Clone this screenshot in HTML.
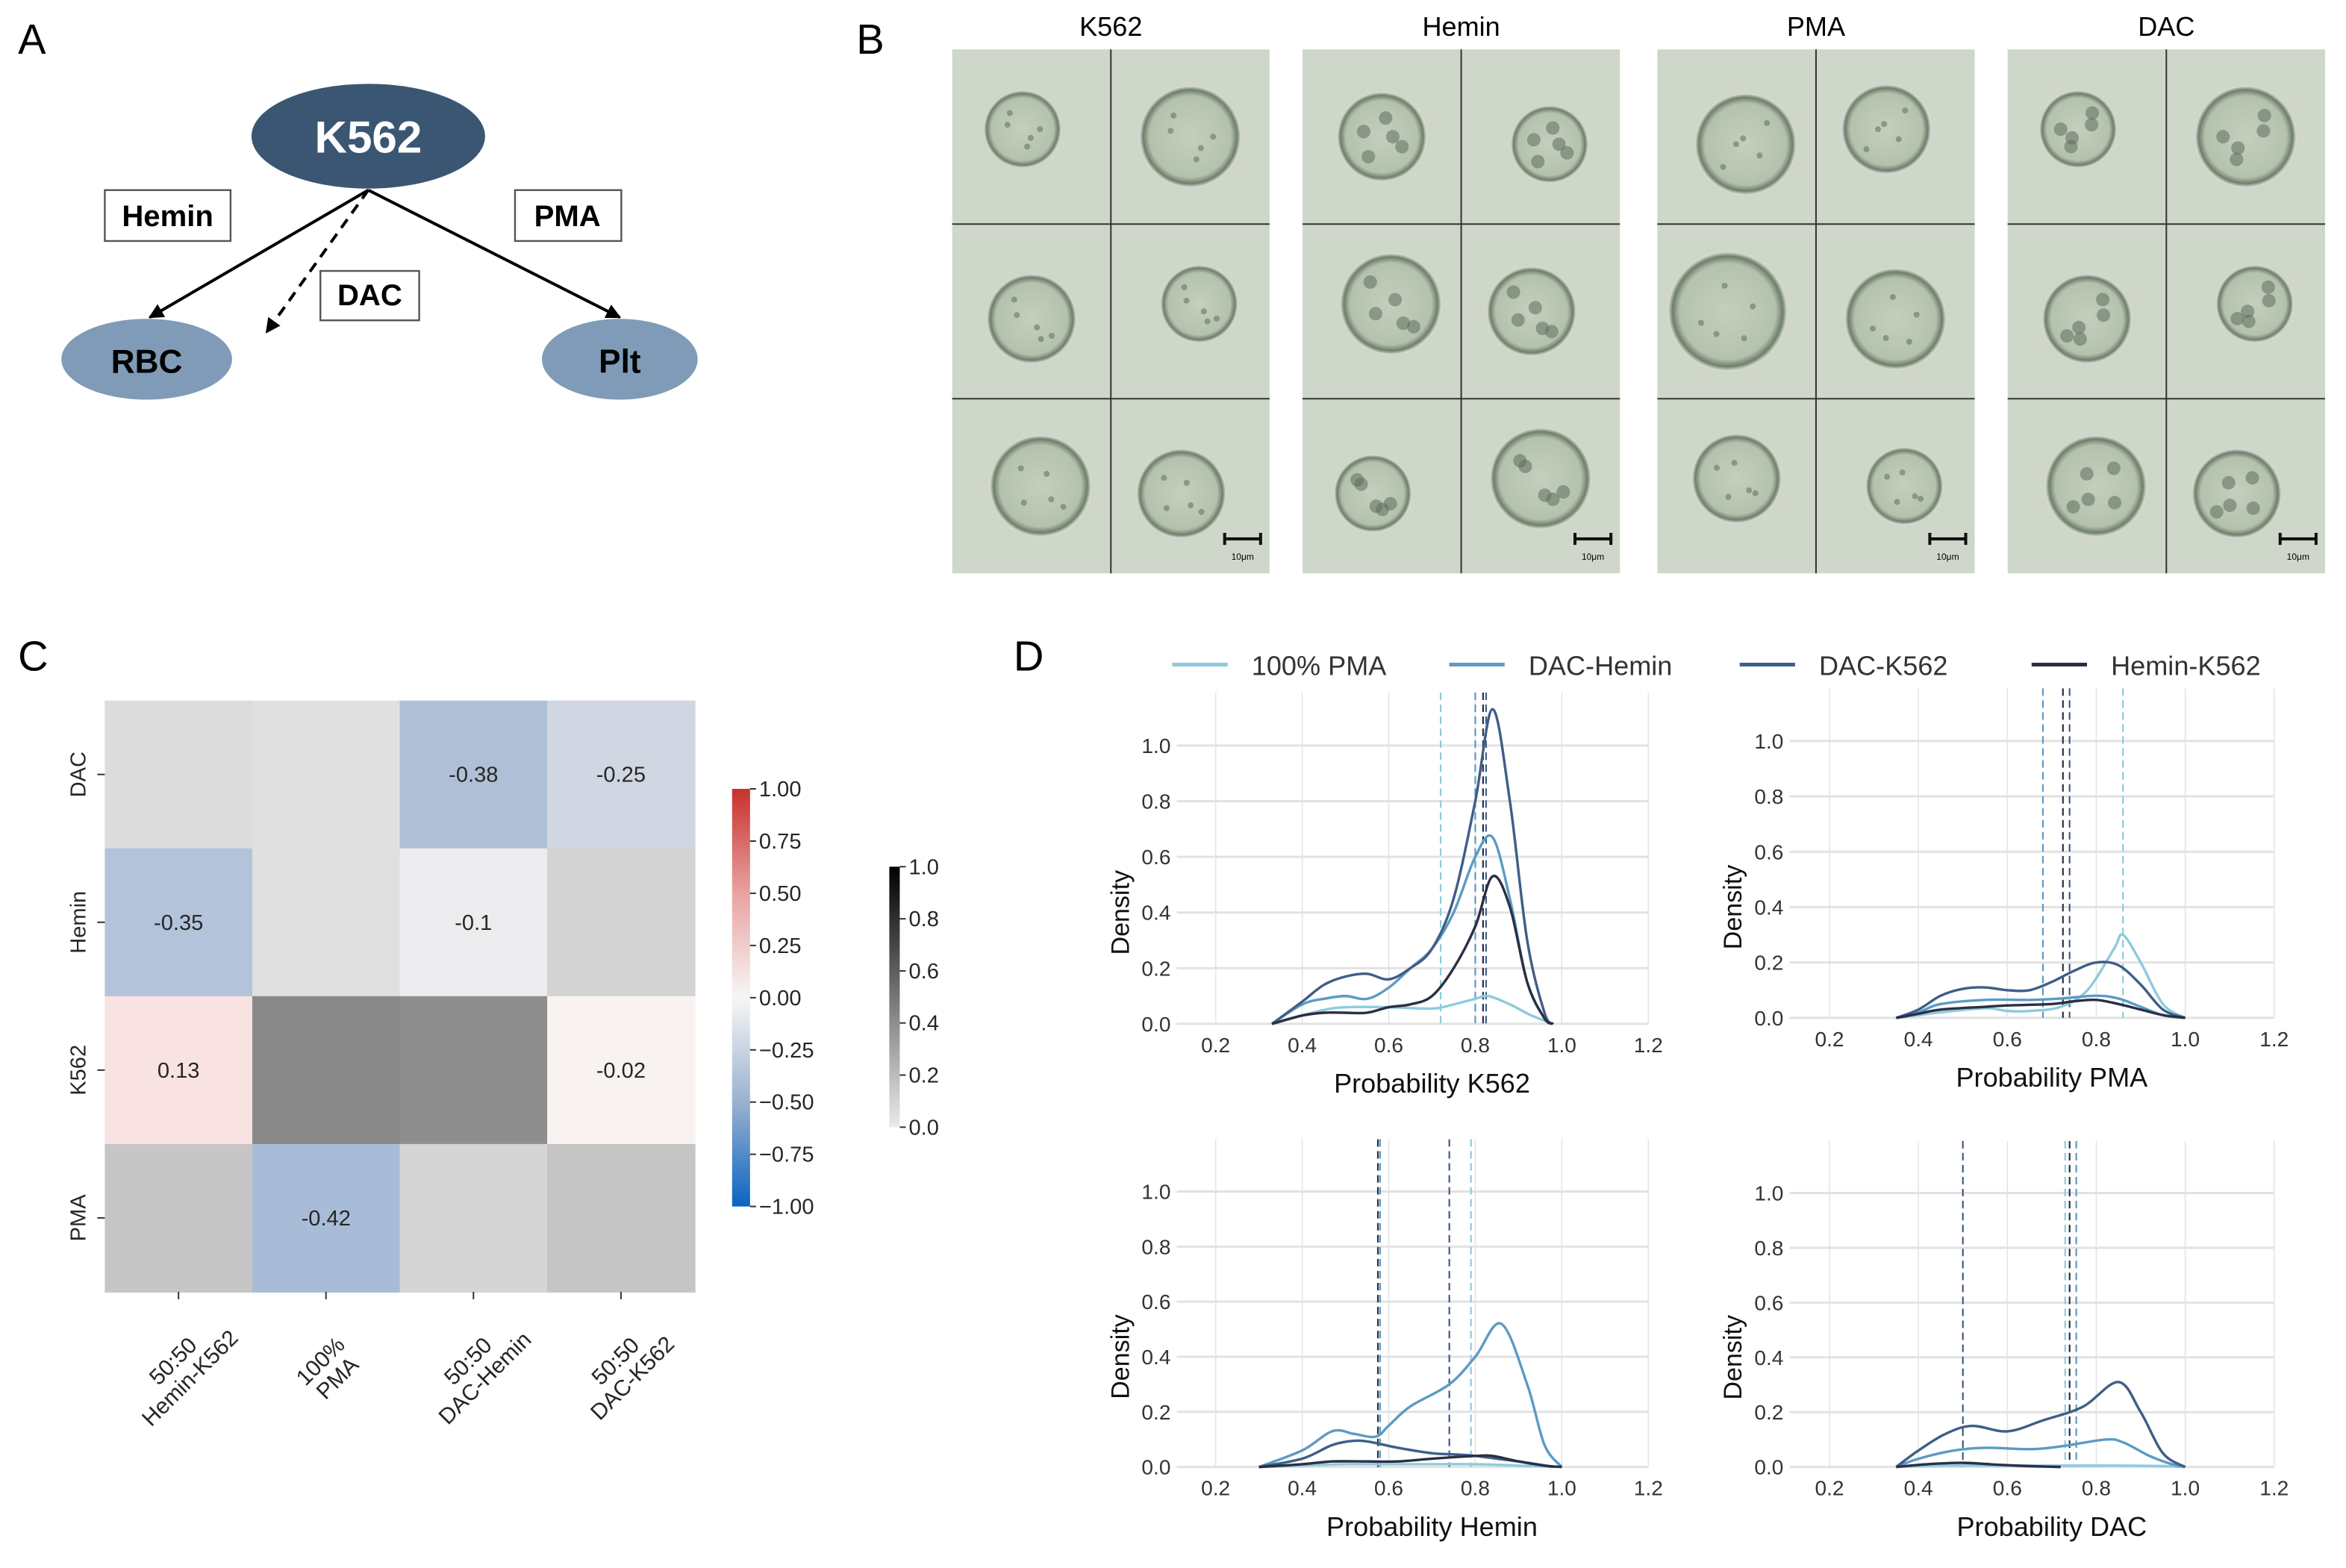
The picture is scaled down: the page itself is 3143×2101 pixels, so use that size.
<!DOCTYPE html>
<html><head><meta charset="utf-8"><style>
html,body{margin:0;padding:0;background:#fff}
svg{display:block}
text{font-family:"Liberation Sans",sans-serif}
.nar{font-family:"Liberation Sans Narrow","Liberation Sans",sans-serif}
</style></head><body>
<svg id="fig" width="3143" height="2101" viewBox="0 0 1567 1047.5" preserveAspectRatio="none" xmlns="http://www.w3.org/2000/svg">
<defs>
<marker id="ah" viewBox="0 0 10 10" refX="9" refY="5" markerWidth="5" markerHeight="5" orient="auto"><path d="M0,0 L10,5 L0,10 z" fill="#000"/></marker>
<radialGradient id="cellg" cx="50%" cy="50%" r="50%"><stop offset="0%" stop-color="#c4cfbd"/><stop offset="80%" stop-color="#b4c2ad"/><stop offset="92%" stop-color="#6f7d6c"/><stop offset="100%" stop-color="#dfe6d8"/></radialGradient>
</defs>
<g>
<text x="12" y="36" font-size="28">A</text>
<line x1="246" y1="127" x2="100" y2="212" stroke="#000" stroke-width="2" marker-end="url(#ah)"/>
<line x1="246" y1="127" x2="414" y2="212" stroke="#000" stroke-width="2" marker-end="url(#ah)"/>
<line x1="246" y1="127" x2="178" y2="222" stroke="#000" stroke-width="2" stroke-dasharray="7,5" marker-end="url(#ah)"/>
<ellipse cx="246" cy="91" rx="78" ry="35" fill="#3b5672"/>
<text x="246" y="102" font-size="30" font-weight="bold" fill="#fff" text-anchor="middle">K562</text>
<ellipse cx="98" cy="240" rx="57" ry="27" fill="#7f9bb7"/>
<text x="98" y="249" font-size="22" font-weight="bold" text-anchor="middle">RBC</text>
<ellipse cx="414" cy="240" rx="52" ry="27" fill="#7f9bb7"/>
<text x="414" y="249" font-size="22" font-weight="bold" text-anchor="middle">Plt</text>
<rect x="70" y="127" width="84" height="34" fill="#fff" stroke="#555" stroke-width="1.2"/>
<text x="112" y="151" font-size="20" font-weight="bold" text-anchor="middle">Hemin</text>
<rect x="344" y="127" width="71" height="34" fill="#fff" stroke="#555" stroke-width="1.2"/>
<text x="379" y="151" font-size="20" font-weight="bold" text-anchor="middle">PMA</text>
<rect x="214" y="181" width="66" height="33" fill="#fff" stroke="#555" stroke-width="1.2"/>
<text x="247" y="204" font-size="20" font-weight="bold" text-anchor="middle">DAC</text>
</g>
<g id="panelB">
<text x="572" y="36" font-size="28">B</text>
</g>
<g id="panelC">
<text x="12" y="448" font-size="28">C</text>
</g>
<g id="panelD">
<text x="677" y="448" font-size="28">D</text>
</g>
</svg>
<script>
// ---------- Panel C data ----------
const hmCols = ["50:50|Hemin-K562", "100%|PMA", "50:50|DAC-Hemin", "50:50|DAC-K562"];
const hmRows = ["DAC", "Hemin", "K562", "PMA"];
const hmColors = [
  ["#dcdcdc", "#e0e0e0", "#afc0d6", "#d0d6e2"],
  ["#b3c3d9", "#e0e0e0", "#ececef", "#d3d3d3"],
  ["#f8e2e2", "#898989", "#8e8e8e", "#f8f3f1"],
  ["#c6c6c6", "#a8bcd7", "#d5d5d5", "#c5c5c5"]
];
const hmLabels = [
  ["", "", "-0.38", "-0.25"],
  ["-0.35", "", "-0.1", ""],
  ["0.13", "", "", "-0.02"],
  ["", "-0.42", "", ""]
];
const rbTicks = ["1.00", "0.75", "0.50", "0.25", "0.00", "\u22120.25", "\u22120.50", "\u22120.75", "\u22121.00"];
const grayTicks = ["1.0", "0.8", "0.6", "0.4", "0.2", "0.0"];

// ---------- Panel D data ----------
const seriesNames = ["100% PMA", "DAC-Hemin", "DAC-K562", "Hemin-K562"];
const seriesColors = ["#8ecbdc", "#5b9bc4", "#3f5e87", "#2a2f45"];
const xTicks = [0.2, 0.4, 0.6, 0.8, 1.0, 1.2];
const yTicks = [0.0, 0.2, 0.4, 0.6, 0.8, 1.0];
const k562_pma_x = [0.33,0.4,0.45,0.5,0.6,0.7,0.75,0.8,0.83,0.88,0.93,0.98];
const k562_pma_y = [0,0.03,0.05,0.06,0.06,0.055,0.07,0.09,0.1,0.07,0.03,0];
const k562_dh_x = [0.33,0.4,0.45,0.5,0.55,0.6,0.65,0.7,0.75,0.8,0.84,0.88,0.92,0.96,0.98];
const k562_dh_y = [0,0.07,0.09,0.1,0.09,0.13,0.2,0.27,0.4,0.6,0.67,0.45,0.15,0.02,0];
const k562_dk_x = [0.33,0.4,0.45,0.5,0.55,0.6,0.65,0.7,0.75,0.8,0.84,0.88,0.92,0.96,0.98];
const k562_dk_y = [0,0.08,0.14,0.17,0.18,0.16,0.2,0.27,0.45,0.8,1.13,0.8,0.3,0.04,0];
const k562_hk_x = [0.33,0.4,0.45,0.5,0.55,0.6,0.65,0.7,0.75,0.8,0.84,0.88,0.92,0.96,0.98];
const k562_hk_y = [0,0.03,0.04,0.04,0.04,0.06,0.07,0.1,0.2,0.35,0.53,0.42,0.15,0.02,0];
const k562_means = [0.72, 0.80, 0.825, 0.818];
const pma_pma_x = [0.35,0.4,0.45,0.55,0.6,0.65,0.72,0.78,0.84,0.86,0.9,0.95,1.0];
const pma_pma_y = [0,0.01,0.02,0.035,0.025,0.025,0.04,0.1,0.25,0.3,0.2,0.05,0];
const pma_dh_x = [0.35,0.4,0.45,0.55,0.65,0.72,0.8,0.85,0.9,0.95,1.0];
const pma_dh_y = [0,0.02,0.05,0.065,0.065,0.07,0.08,0.07,0.04,0.01,0];
const pma_dk_x = [0.35,0.4,0.45,0.5,0.55,0.6,0.65,0.7,0.75,0.8,0.85,0.9,0.95,1.0];
const pma_dk_y = [0,0.03,0.08,0.105,0.11,0.1,0.1,0.13,0.17,0.2,0.19,0.12,0.03,0];
const pma_hk_x = [0.35,0.4,0.45,0.55,0.6,0.7,0.75,0.8,0.85,0.9,0.95,1.0];
const pma_hk_y = [0,0.015,0.03,0.04,0.045,0.05,0.06,0.065,0.05,0.03,0.01,0];
const pma_means = [0.86, 0.68, 0.74, 0.725];
const hem_pma_x = [0.3,0.4,0.5,0.6,0.7,0.8,0.9,1.0];
const hem_pma_y = [0,0.005,0.01,0.01,0.01,0.01,0.005,0];
const hem_dh_x = [0.3,0.4,0.47,0.52,0.57,0.6,0.65,0.74,0.8,0.86,0.92,0.96,1.0];
const hem_dh_y = [0,0.06,0.13,0.12,0.11,0.15,0.22,0.3,0.4,0.52,0.3,0.08,0];
const hem_dk_x = [0.3,0.4,0.47,0.52,0.56,0.62,0.7,0.76,0.8,0.85,0.9,0.98];
const hem_dk_y = [0,0.03,0.08,0.095,0.09,0.07,0.05,0.045,0.04,0.03,0.02,0];
const hem_hk_x = [0.3,0.4,0.47,0.55,0.62,0.7,0.8,0.84,0.9,0.96,1.0];
const hem_hk_y = [0,0.01,0.02,0.02,0.02,0.03,0.04,0.04,0.02,0.005,0];
const hem_means = [0.79, 0.58, 0.74, 0.575];
const dac_pma_x = [0.35,0.45,0.55,0.65,0.75,0.85,0.95,1.0];
const dac_pma_y = [0,0.005,0.005,0.005,0.005,0.005,0.003,0];
const dac_dh_x = [0.35,0.4,0.48,0.55,0.65,0.72,0.82,0.86,0.92,0.97,1.0];
const dac_dh_y = [0,0.03,0.06,0.07,0.065,0.075,0.1,0.09,0.04,0.01,0];
const dac_dk_x = [0.35,0.4,0.46,0.52,0.6,0.68,0.77,0.85,0.9,0.95,1.0];
const dac_dk_y = [0,0.06,0.12,0.15,0.13,0.17,0.22,0.31,0.2,0.05,0];
const dac_hk_x = [0.35,0.42,0.5,0.58,0.65,0.72];
const dac_hk_y = [0,0.01,0.015,0.008,0.003,0];
const dac_means = [0.73, 0.755, 0.50, 0.74];

const NS = "http://www.w3.org/2000/svg";
function mk(tag, attrs, parent, txt) {
  const e = document.createElementNS(NS, tag);
  for (const k in attrs) e.setAttribute(k, attrs[k]);
  if (txt !== undefined) e.textContent = txt;
  parent.appendChild(e);
  return e;
}

// ---------- Panel B ----------
const pB = document.getElementById('panelB');
const panelTitles = ["K562", "Hemin", "PMA", "DAC"];
const panelX = [636, 870, 1107, 1341];
panelTitles.forEach((t, i) => {
  const x0 = panelX[i], w = 212, y0 = 33, h = 350;
  const tt = mk('text', {x: x0 + w / 2, y: 24, 'font-size': 18, 'text-anchor': 'middle'}, pB, t);
  
  
  const bg = mk('rect', {x: x0, y: y0, width: w, height: h, fill: '#cfd7ca'}, pB);
  
  
  for (let r = 0; r < 3; r++) for (let c = 0; c < 2; c++) {
    const cx = x0 + w / 4 + c * w / 2 + ((r + c + i) % 3 - 1) * 6;
    const cy = y0 + h / 6 + r * h / 3 + ((r * 2 + c + i) % 3 - 1) * 5;
    const rad = 26 + ((r + c * 2 + i) % 3) * 4 + (i === 2 && r === 1 && c === 0 ? 14 : 0);
    const cell = mk('circle', {cx: cx, cy: cy, r: rad, fill: 'url(#cellg)'}, pB);
    
    
    for (let k = 0; k < 5; k++) {
      mk('circle', {cx: cx + Math.cos(k * 1.3 + i) * rad * 0.45, cy: cy + Math.sin(k * 1.7 + r) * rad * 0.45, r: 2 + (i % 2) * 2.5, fill: '#5f6d5e', opacity: 0.55}, pB);
    }
  }
  mk('line', {x1: x0 + w / 2, y1: y0, x2: x0 + w / 2, y2: y0 + h, stroke: '#333', 'stroke-width': 1}, pB);
  mk('line', {x1: x0, y1: y0 + h / 3, x2: x0 + w, y2: y0 + h / 3, stroke: '#333', 'stroke-width': 1}, pB);
  mk('line', {x1: x0, y1: y0 + 2 * h / 3, x2: x0 + w, y2: y0 + 2 * h / 3, stroke: '#333', 'stroke-width': 1}, pB);
  const sb = mk('path', {d: `M${x0+w-30},${y0+h-23} h24 M${x0+w-30},${y0+h-27} v8 M${x0+w-6},${y0+h-27} v8`, stroke: '#111', 'stroke-width': 2, fill: 'none'}, pB);
  
  
  mk('text', {x: x0 + w - 18, y: y0 + h - 9, 'font-size': 6, 'text-anchor': 'middle'}, pB, '10\u03bcm');
});

// ---------- Panel C heatmap ----------
const pC = document.getElementById('panelC');
const hmX0 = 70, hmY0 = 468, hmW = 394, hmH = 395;
const cw = hmW / hmCols.length, ch = hmH / hmRows.length;
hmRows.forEach((rn, r) => {
  hmCols.forEach((cn, c) => {
    const cell = mk('rect', {x: hmX0 + c * cw, y: hmY0 + r * ch, width: cw + 0.5, height: ch + 0.5, fill: hmColors[r][c]}, pC);
    
    
    if (hmLabels[r][c]) {
      const t = mk('text', {x: hmX0 + c * cw + cw / 2, y: hmY0 + r * ch + ch / 2 + 5, 'font-size': 14.5, 'text-anchor': 'middle', fill: '#262626'}, pC, hmLabels[r][c]);
      
      
    }
  });
  const cy = hmY0 + r * ch + ch / 2;
  mk('line', {x1: hmX0 - 5, y1: cy, x2: hmX0, y2: cy, stroke: '#333', 'stroke-width': 1}, pC);
  const yl = mk('text', {x: 0, y: 0, 'font-size': 14.5, 'text-anchor': 'middle', fill: '#262626', transform: `translate(57,${cy}) rotate(-90)`}, pC, rn);
  
  
});
hmCols.forEach((cn, c) => {
  const cx = hmX0 + c * cw + cw / 2;
  mk('line', {x1: cx, y1: hmY0 + hmH, x2: cx, y2: hmY0 + hmH + 5, stroke: '#333', 'stroke-width': 1}, pC);
  const lines = cn.split('|');
  const g = mk('g', {transform: `translate(${cx + 2},${hmY0 + hmH + 52}) rotate(-45)`}, pC);
  
  
  lines.forEach((ln, k) => {
    mk('text', {x: 0, y: -3 + k * 16, 'font-size': 15, 'text-anchor': 'middle', fill: '#262626'}, g, ln);
  });
});
const cb1 = {x: 489, y: 527, w: 12, h: 279};
const lg1 = mk('linearGradient', {id: 'rbgrad', x1: 0, y1: 0, x2: 0, y2: 1}, document.querySelector('defs'));
[["0", "#c9302c"], ["0.25", "#e8a3a0"], ["0.5", "#f7f6f6"], ["0.75", "#9ab1d0"], ["1", "#0a64c4"]].forEach(s => mk('stop', {offset: s[0], 'stop-color': s[1]}, lg1));
const cbr = mk('rect', {x: cb1.x, y: cb1.y, width: cb1.w, height: cb1.h, fill: 'url(#rbgrad)'}, pC);


rbTicks.forEach((t, i) => {
  const y = cb1.y + i * cb1.h / (rbTicks.length - 1);
  mk('line', {x1: cb1.x + cb1.w, y1: y, x2: cb1.x + cb1.w + 4, y2: y, stroke: '#333'}, pC);
  const tx = mk('text', {x: cb1.x + cb1.w + 6, y: y + 5, 'font-size': 14.5, fill: '#262626'}, pC, t);
  
  
});
const cb2 = {x: 594, y: 579, w: 7, h: 174};
const lg2 = mk('linearGradient', {id: 'gygrad', x1: 0, y1: 0, x2: 0, y2: 1}, document.querySelector('defs'));
[["0", "#000"], ["1", "#ebebeb"]].forEach(s => mk('stop', {offset: s[0], 'stop-color': s[1]}, lg2));
const cbg = mk('rect', {x: cb2.x, y: cb2.y, width: cb2.w, height: cb2.h, fill: 'url(#gygrad)'}, pC);


grayTicks.forEach((t, i) => {
  const y = cb2.y + i * cb2.h / (grayTicks.length - 1);
  mk('line', {x1: cb2.x + cb2.w, y1: y, x2: cb2.x + cb2.w + 4, y2: y, stroke: '#333'}, pC);
  const tx = mk('text', {x: cb2.x + cb2.w + 6, y: y + 5, 'font-size': 14.5, fill: '#262626'}, pC, t);
  
  
});

// ---------- Panel D ----------
const pD = document.getElementById('panelD');
const legX = [783, 968, 1162, 1357];
seriesNames.forEach((n, i) => {
  const g = mk('g', {}, pD);
  
  
  mk('line', {x1: legX[i], y1: 444, x2: legX[i] + 37, y2: 444, stroke: seriesColors[i], 'stroke-width': 2.5}, g);
  mk('text', {x: legX[i] + 53, y: 451, 'font-size': 18, fill: '#333', class: 'nar'}, g, n);
});
function smoothPath(pts) {
  let d = `M${pts[0][0]},${pts[0][1]}`;
  for (let i = 0; i < pts.length - 1; i++) {
    const p0 = pts[Math.max(0, i - 1)], p1 = pts[i], p2 = pts[i + 1], p3 = pts[Math.min(pts.length - 1, i + 2)];
    const c1 = [p1[0] + (p2[0] - p0[0]) / 6, p1[1] + (p2[1] - p0[1]) / 6];
    const c2 = [p2[0] - (p3[0] - p1[0]) / 6, p2[1] - (p3[1] - p1[1]) / 6];
    d += ` C${c1[0]},${c1[1]} ${c2[0]},${c2[1]} ${p2[0]},${p2[1]}`;
  }
  return d;
}
function subplot(cfg) {
  const {px0, px1, y0, y1, xlabel, xs, ys, means, name} = cfg;
  const xS = v => px0 + (v - 0.2) * (px1 - px0);
  const yS = v => y0 + v * (y1 - y0);
  const g = mk('g', {}, pD);
  
  
  const left = xS(0.11), right = xS(1.2), top = yS(1.19);
  xTicks.forEach(t => {
    mk('line', {x1: xS(t), y1: top, x2: xS(t), y2: y0, stroke: '#e4e4e4', 'stroke-width': 0.8}, g);
    const tx = mk('text', {x: xS(t), y: y0 + 19, 'font-size': 14, 'text-anchor': 'middle', fill: '#333', class: 'nar'}, g, t.toFixed(1));
    
    
  });
  yTicks.forEach(t => {
    mk('line', {x1: left, y1: yS(t), x2: right, y2: yS(t), stroke: '#e2e2e2', 'stroke-width': 1.5}, g);
    const tx = mk('text', {x: left - 4, y: yS(t) + 5, 'font-size': 14, 'text-anchor': 'end', fill: '#333', class: 'nar'}, g, t.toFixed(1));
    
    
  });
  const xl = mk('text', {x: (xS(0.2) + xS(1.2)) / 2, y: y0 + 46, 'font-size': 18, 'text-anchor': 'middle', fill: '#111', class: 'nar'}, g, xlabel);
  
  
  const yl = mk('text', {x: 0, y: 0, 'font-size': 17, 'text-anchor': 'middle', fill: '#111', transform: `translate(${left - 32},${yS(0.4)}) rotate(-90)`}, g, 'Density');
  
  
  means.forEach((m, i) => {
    const vl = mk('line', {x1: xS(m), y1: top, x2: xS(m), y2: y0, stroke: seriesColors[i], 'stroke-width': 1.1, 'stroke-dasharray': '5,3'}, g);
    
    
  });
  for (let i = 0; i < 4; i++) {
    const pts = xs[i].map((x, k) => [xS(x), yS(ys[i][k])]);
    const p = mk('path', {d: smoothPath(pts), fill: 'none', stroke: seriesColors[i], 'stroke-width': 1.7}, g);
    
    
  }
}
subplot({name: 'subplot-k562', px0: 812, px1: 1101, y0: 684, y1: 498, xlabel: 'Probability K562',
  xs: [k562_pma_x, k562_dh_x, k562_dk_x, k562_hk_x], ys: [k562_pma_y, k562_dh_y, k562_dk_y, k562_hk_y], means: k562_means});
subplot({name: 'subplot-pma', px0: 1222, px1: 1519, y0: 680, y1: 495, xlabel: 'Probability PMA',
  xs: [pma_pma_x, pma_dh_x, pma_dk_x, pma_hk_x], ys: [pma_pma_y, pma_dh_y, pma_dk_y, pma_hk_y], means: pma_means});
subplot({name: 'subplot-hemin', px0: 812, px1: 1101, y0: 980, y1: 796, xlabel: 'Probability Hemin',
  xs: [hem_pma_x, hem_dh_x, hem_dk_x, hem_hk_x], ys: [hem_pma_y, hem_dh_y, hem_dk_y, hem_hk_y], means: hem_means});
subplot({name: 'subplot-dac', px0: 1222, px1: 1519, y0: 980, y1: 797, xlabel: 'Probability DAC',
  xs: [dac_pma_x, dac_dh_x, dac_dk_x, dac_hk_x], ys: [dac_pma_y, dac_dh_y, dac_dk_y, dac_hk_y], means: dac_means});
</script>
</body></html>
